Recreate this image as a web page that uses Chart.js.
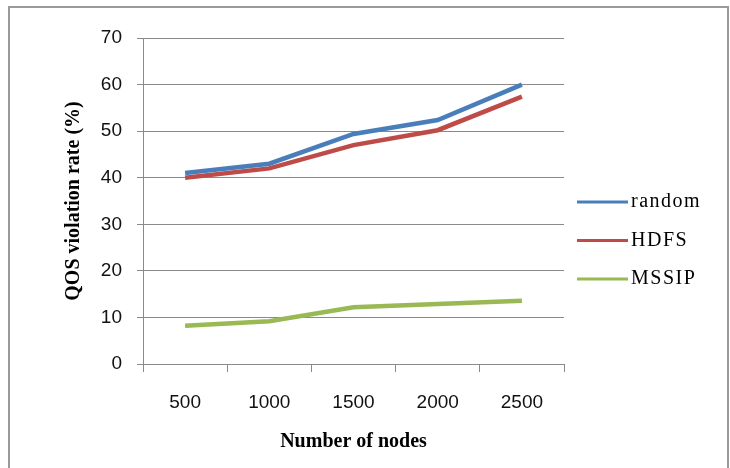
<!DOCTYPE html>
<html>
<head>
<meta charset="utf-8">
<script src="https://cdn.jsdelivr.net/npm/chart.js@4"></script>
<style>
  html, body { margin: 0; padding: 0; background: #fff; }
  #wrap { position: relative; width: 730px; height: 468px; }
  #frame { position: absolute; left: 8px; top: 6px; width: 721px; height: 470px; border: 2px solid #9a9a9a; box-sizing: border-box; }
  canvas { position: absolute; left: 0; top: 0; }
</style>
</head>
<body>
<div id="wrap">
  <div id="frame"></div>
  <canvas id="qosChart" width="730" height="468"></canvas>
</div>
<script>
const nodeCounts = ["500", "1000", "1500", "2000", "2500"];
const randomRate = [41, 43, 49.4, 52.4, 60];
const hdfsRate = [40, 42, 47, 50.2, 57.4];
const mssipRate = [8.2, 9.2, 12.2, 12.9, 13.6];
const seriesNames = ["random", "HDFS", "MSSIP"];
const seriesColors = ["#4a7ebb", "#be4b48", "#98b954"];

const gridColor = "#8a8a8a";
const tickFont = { family: "'Liberation Sans', Arial, sans-serif", size: 19 };
const titleFont = { family: "'Liberation Serif', 'Times New Roman', serif", size: 20, weight: "bold" };

// legend drawn beside the plot, like the Excel original
const sideLegend = {
  id: "sideLegend",
  afterDraw(chart) {
    const ctx = chart.ctx;
    ctx.save();
    ctx.font = "20px 'Liberation Serif', 'Times New Roman', serif";
    ctx.letterSpacing = "1.5px";
    ctx.textBaseline = "middle";
    chart.data.datasets.forEach((ds, i) => {
      const y = 202 + i * 38.5;
      ctx.strokeStyle = ds.borderColor;
      ctx.lineWidth = 3;
      ctx.beginPath();
      ctx.moveTo(577, y);
      ctx.lineTo(628, y);
      ctx.stroke();
      ctx.fillStyle = "#000";
      ctx.fillText(ds.label, 631, y);
    });
    ctx.restore();
  }
};

function makeSeries(name, data, color) {
  return {
    label: name,
    data,
    borderColor: color,
    backgroundColor: color,
    borderWidth: 4.5,
    pointRadius: 0,
    tension: 0,
    fill: false
  };
}

new Chart(document.getElementById("qosChart"), {
  type: "line",
  data: {
    labels: nodeCounts,
    datasets: [
      makeSeries(seriesNames[0], randomRate, seriesColors[0]),
      makeSeries(seriesNames[1], hdfsRate, seriesColors[1]),
      makeSeries(seriesNames[2], mssipRate, seriesColors[2])
    ]
  },
  options: {
    responsive: false,
    animation: false,
    layout: { padding: { left: 62, right: 166, top: 38, bottom: 14 } },
    plugins: {
      legend: { display: false },
      tooltip: { enabled: false }
    },
    scales: {
      x: {
        offset: true,
        grid: { offset: true, drawOnChartArea: false, color: gridColor, tickLength: 8 },
        border: { color: gridColor, width: 1 },
        ticks: { font: tickFont, color: "#111", padding: 19, maxRotation: 0 },
        title: { display: true, text: "Number of nodes", font: titleFont, color: "#000", padding: 0 },
        afterFit: scale => { scale.height = 468 - 14 - 364; }
      },
      y: {
        min: 0,
        max: 70,
        ticks: { stepSize: 10, font: tickFont, color: "#111", padding: 15 },
        grid: { color: gridColor, tickLength: 6 },
        border: { color: gridColor, width: 1 },
        title: { display: true, text: "QOS violation rate (%)", font: titleFont, color: "#000", padding: 0 },
        afterFit: scale => { scale.width = 143 - 62; }
      }
    }
  },
  plugins: [sideLegend]
});
</script>
</body>
</html>
